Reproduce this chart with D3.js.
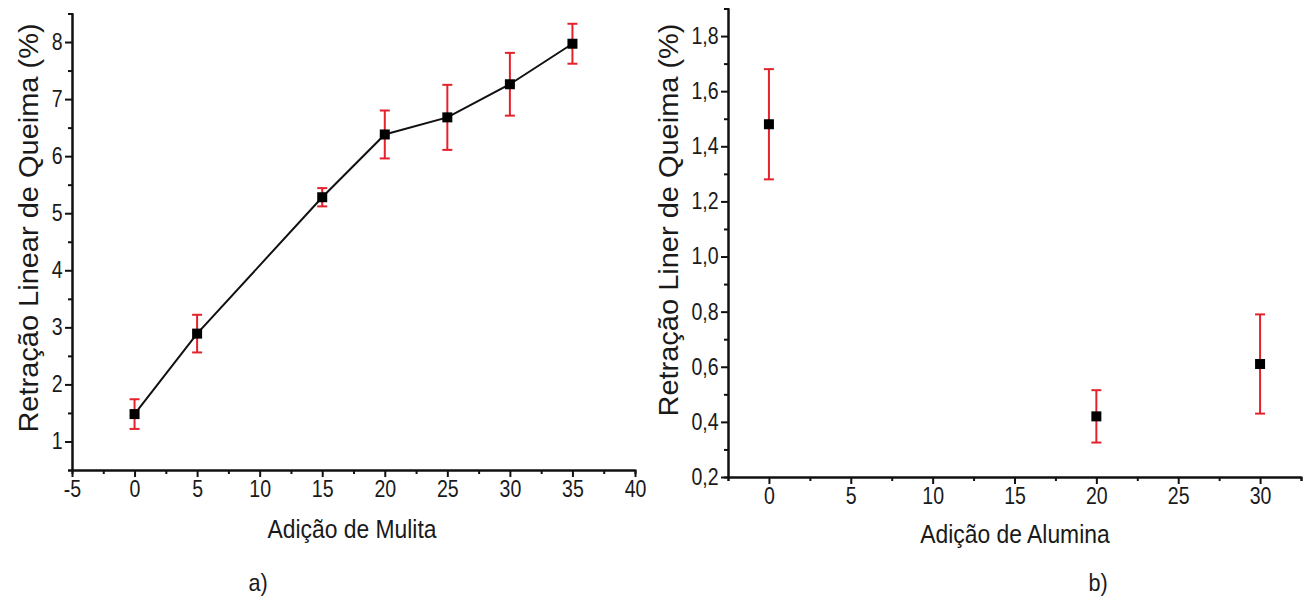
<!DOCTYPE html>
<html><head><meta charset="utf-8">
<script src="https://cdn.jsdelivr.net/npm/d3@7/dist/d3.min.js"></script>
<style>
body{margin:0;background:#fff}
text{font-family:"Liberation Sans",Arial,sans-serif;fill:#1a1a1a}
</style>
</head><body>
<svg id="chart" width="1310" height="602"></svg>
<script>
// ---- data ----
const mulitaX   = [0, 5, 15, 20, 25, 30, 35];
const mulitaY   = [1.48, 2.89, 5.28, 6.38, 6.68, 7.26, 7.97];
const mulitaErr = [0.26, 0.33, 0.16, 0.42, 0.57, 0.55, 0.35];

const aluminaX   = [0, 20, 30];
const aluminaY   = [1.48, 0.42, 0.61];
const aluminaErr = [0.20, 0.095, 0.18];

const leftXTicks  = [-5, 0, 5, 10, 15, 20, 25, 30, 35, 40];
const leftXLabels = ["-5", "0", "5", "10", "15", "20", "25", "30", "35", "40"];
const leftXMinor  = [-2.5, 2.5, 7.5, 12.5, 17.5, 22.5, 27.5, 32.5, 37.5];
const leftYTicks  = [1, 2, 3, 4, 5, 6, 7, 8];
const leftYMinor  = [0.5, 1.5, 2.5, 3.5, 4.5, 5.5, 6.5, 7.5];

const rightXTicks = [0, 5, 10, 15, 20, 25, 30];
const rightXMinor = [-2.5, 2.5, 7.5, 12.5, 17.5, 22.5, 27.5, 32.5];
const rightYTicks = [0.2, 0.4, 0.6, 0.8, 1.0, 1.2, 1.4, 1.6, 1.8];
const rightYLabels = ["0,2","0,4","0,6","0,8","1,0","1,2","1,4","1,6","1,8"];
const rightYMinor = [0.3, 0.5, 0.7, 0.9, 1.1, 1.3, 1.5, 1.7, 1.9];

const leftXTitle  = "Adição de Mulita";
const rightXTitle = "Adição de Alumina";
const leftYTitle  = "Retração Linear de Queima (%)";
const rightYTitle = "Retração Liner de Queima (%)";
const panelLabels = ["a)", "b)"];

// ---- drawing ----
const svg = d3.select("#chart");
const ERR = "#e3222b";

function panel(cfg) {
  const x = d3.scaleLinear().domain(cfg.xDomain).range(cfg.xRange);
  const y = d3.scaleLinear().domain(cfg.yDomain).range(cfg.yRange);
  const g = svg.append("g");
  const x0 = cfg.xRange[0], y0 = cfg.yRange[0];

  // minor ticks
  g.append("g").attr("transform", `translate(0,${y0})`)
    .call(d3.axisBottom(x).tickValues(cfg.xMinor).tickSize(4).tickFormat(""));
  g.append("g").attr("transform", `translate(${x0},0)`)
    .call(d3.axisLeft(y).tickValues(cfg.yMinor).tickSize(4).tickFormat(""));
  // major
  const xa = g.append("g").attr("transform", `translate(0,${y0})`)
    .call(d3.axisBottom(x).tickValues(cfg.xTicks).tickSize(7).tickSizeOuter(0).tickPadding(4)
      .tickFormat((d, i) => cfg.xLabels ? cfg.xLabels[i] : String(d)));
  const ya = g.append("g").attr("transform", `translate(${x0},0)`)
    .call(d3.axisLeft(y).tickValues(cfg.yTicks).tickSize(7).tickSizeOuter(0).tickPadding(4)
      .tickFormat((d, i) => cfg.yLabels ? cfg.yLabels[i] : String(d)));
  g.selectAll(".domain, .tick line").attr("stroke", "#111").attr("stroke-width", 2);
  xa.attr("font-size", 23).attr("font-family", '"Liberation Sans", Arial, sans-serif');
  ya.attr("font-size", 23).attr("font-family", '"Liberation Sans", Arial, sans-serif');
  g.selectAll(".tick text").style("font-size", "23px").attr("fill", "#1a1a1a");
  xa.selectAll(".tick text").attr("transform", "scale(0.85,1)");
  ya.selectAll(".tick text").attr("transform", "scale(0.85,1)");

  // titles
  g.append("text").attr("transform", `translate(${cfg.xtPos[0]},${cfg.xtPos[1]}) scale(0.88,1)`)
    .attr("text-anchor", "middle").style("font-size", "26px").text(cfg.xTitle);
  g.append("text").attr("transform", `translate(${cfg.ytPos[0]},${cfg.ytPos[1]}) rotate(-90) scale(1,0.95)`)
    .attr("text-anchor", "middle").attr("dy", "0.35em").style("font-size", "29px").text(cfg.yTitle);
  g.append("text").attr("transform", `translate(${cfg.plPos[0]},${cfg.plPos[1]}) scale(0.9,1)`)
    .attr("text-anchor", "middle").style("font-size", "24px").text(cfg.label);

  const pts = cfg.xs.map((v, i) => ({x: v, y: cfg.ys[i], e: cfg.errs[i]}));

  if (cfg.line) {
    g.append("path").datum(pts)
      .attr("d", d3.line().x(d => x(d.x)).y(d => y(d.y)))
      .attr("fill", "none").attr("stroke", "#111").attr("stroke-width", 2);
  }
  // error bars
  const eb = g.append("g").attr("stroke", ERR).attr("stroke-width", 2);
  pts.forEach(d => {
    const cx = x(d.x);
    eb.append("line").attr("x1", cx).attr("x2", cx).attr("y1", y(d.y + d.e)).attr("y2", y(d.y - d.e));
    [d.y + d.e, d.y - d.e].forEach(v => {
      eb.append("line").attr("x1", cx - 5).attr("x2", cx + 5).attr("y1", y(v)).attr("y2", y(v));
    });
  });
  // markers
  g.selectAll("rect.m").data(pts).enter().append("rect").attr("class", "m")
    .attr("x", d => x(d.x) - 5).attr("y", d => y(d.y) - 5)
    .attr("width", 10).attr("height", 10).attr("fill", "#000");
}

panel({
  xDomain: [-5, 40], xRange: [72, 635], yDomain: [0.5, 8.5], yRange: [470, 13.5],
  xTicks: leftXTicks, xLabels: leftXLabels, xMinor: leftXMinor, yTicks: leftYTicks, yMinor: leftYMinor,
  xTitle: leftXTitle, yTitle: leftYTitle, label: panelLabels[0],
  xtPos: [352, 538], ytPos: [28, 228], plPos: [258, 591],
  xs: mulitaX, ys: mulitaY, errs: mulitaErr, line: true
});
panel({
  xDomain: [-2.5, 32.5], xRange: [728, 1301], yDomain: [0.2, 1.9], yRange: [477, 8.5],
  xTicks: rightXTicks, xMinor: rightXMinor, yTicks: rightYTicks, yMinor: rightYMinor, yLabels: rightYLabels,
  xTitle: rightXTitle, yTitle: rightYTitle, label: panelLabels[1],
  xtPos: [1015, 543], ytPos: [668, 220], plPos: [1098, 591],
  xs: aluminaX, ys: aluminaY, errs: aluminaErr, line: false
});
</script>
</body></html>
